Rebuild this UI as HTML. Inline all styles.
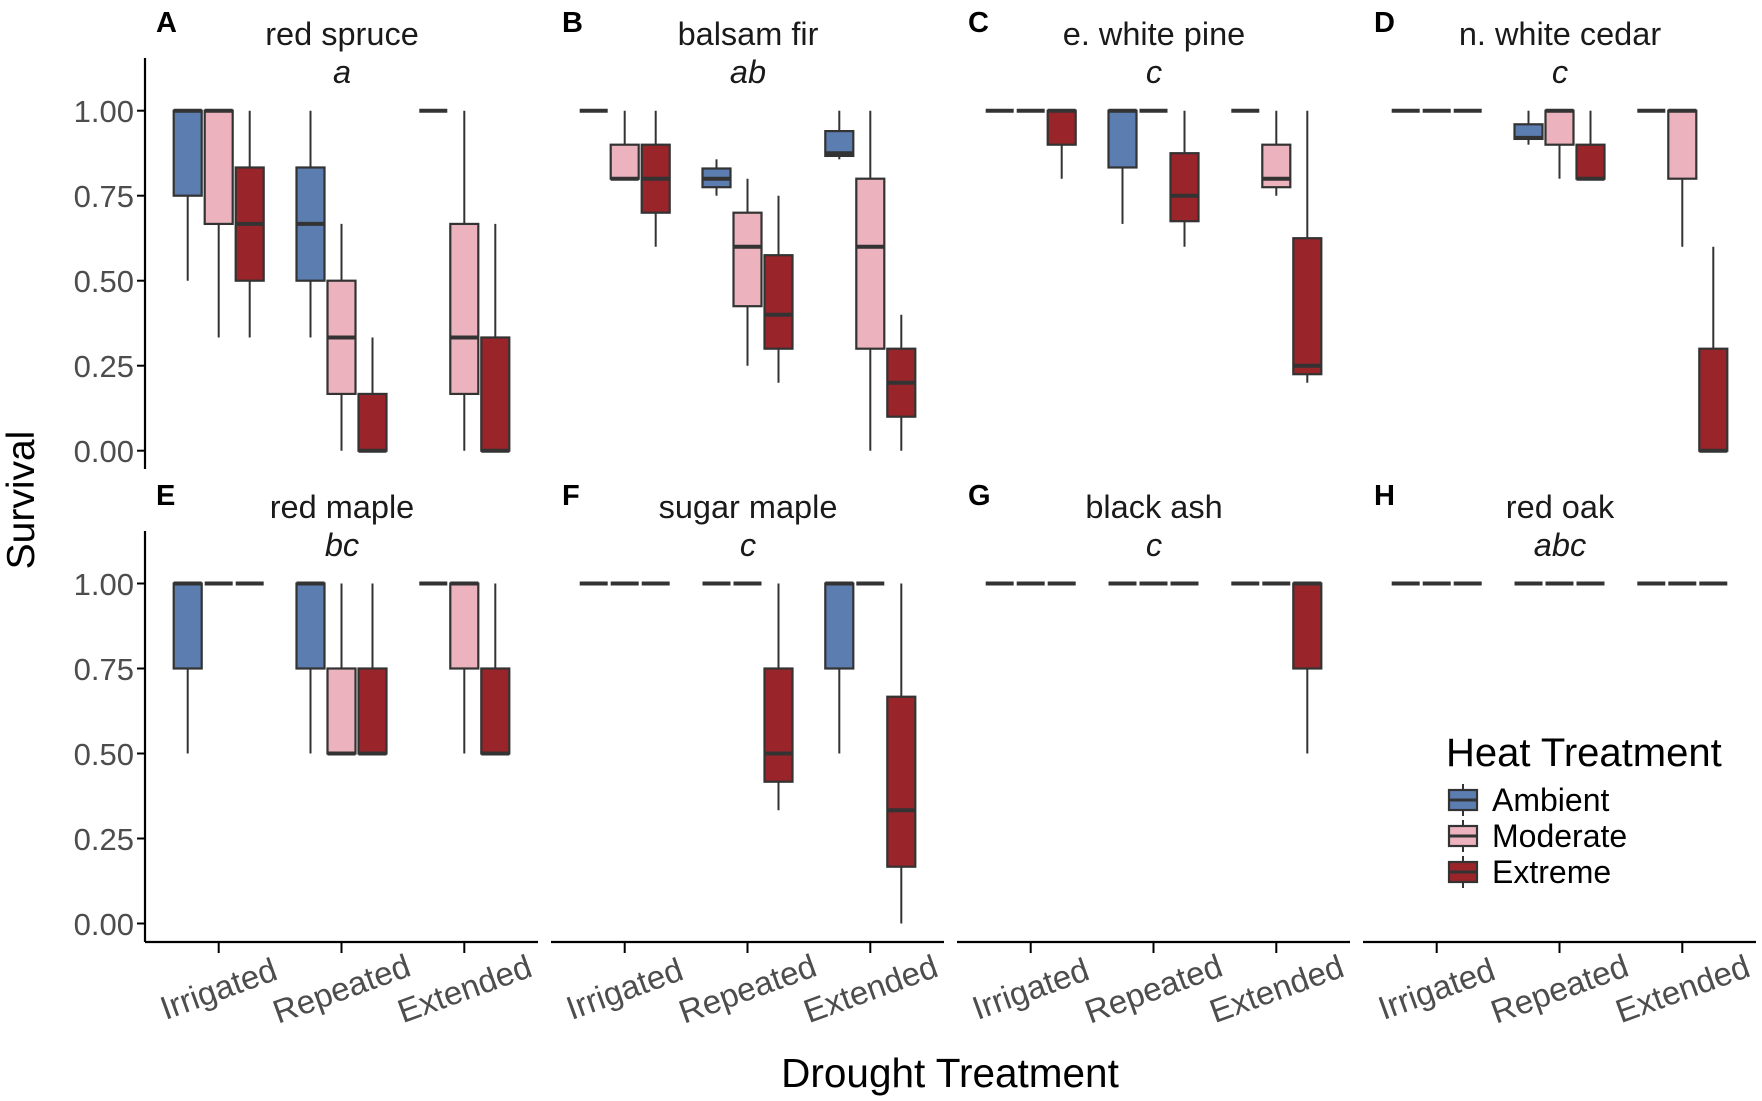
<!DOCTYPE html>
<html><head><meta charset="utf-8"><style>
html,body{margin:0;padding:0;background:#fff}
svg{display:block}
text{font-family:"Liberation Sans",Arial,sans-serif}
</style></head><body>
<svg id="s" width="1762" height="1101" viewBox="0 0 1762 1101" xmlns="http://www.w3.org/2000/svg">
<g id="boxes"></g>
<g stroke="#000" stroke-width="2.2" fill="none">
<line x1="145" y1="58" x2="145" y2="469"/>
<line x1="145" y1="531" x2="145" y2="942"/>
<line x1="145" y1="942" x2="538" y2="942"/>
<line x1="551" y1="942" x2="944" y2="942"/>
<line x1="957" y1="942" x2="1350" y2="942"/>
<line x1="1363" y1="942" x2="1756" y2="942"/>
</g>
<g id="ticks" stroke="#000" stroke-width="2"></g>
<g font-size="31" fill="#4d4d4d" text-anchor="end">
<text x="134" y="122">1.00</text><text x="134" y="207">0.75</text><text x="134" y="292">0.50</text><text x="134" y="377">0.25</text><text x="134" y="462">0.00</text>
<text x="134" y="595">1.00</text><text x="134" y="680">0.75</text><text x="134" y="765">0.50</text><text x="134" y="850">0.25</text><text x="134" y="935">0.00</text>
</g>
<g font-size="29" font-weight="bold" fill="#000">
<text x="156" y="32">A</text><text x="562" y="32">B</text><text x="968" y="32">C</text><text x="1374" y="32">D</text>
<text x="156" y="505">E</text><text x="562" y="505">F</text><text x="968" y="505">G</text><text x="1374" y="505">H</text>
</g>
<g font-size="32.5" fill="#1a1a1a" text-anchor="middle">
<text x="342" y="45">red spruce</text><text x="748" y="45">balsam fir</text><text x="1154" y="45">e. white pine</text><text x="1560" y="45">n. white cedar</text>
<text x="342" y="518">red maple</text><text x="748" y="518">sugar maple</text><text x="1154" y="518">black ash</text><text x="1560" y="518">red oak</text>
</g>
<g font-size="32.5" font-style="italic" fill="#1a1a1a" text-anchor="middle">
<text x="342" y="83">a</text><text x="748" y="83">ab</text><text x="1154" y="83">c</text><text x="1560" y="83">c</text>
<text x="342" y="556">bc</text><text x="748" y="556">c</text><text x="1154" y="556">c</text><text x="1560" y="556">abc</text>
</g>
<g font-size="33" fill="#4d4d4d" text-anchor="middle">
<text transform="translate(219,990) rotate(-20)" dy="10">Irrigated</text>
<text transform="translate(342,990) rotate(-20)" dy="10">Repeated</text>
<text transform="translate(465,990) rotate(-20)" dy="10">Extended</text>
<text transform="translate(625,990) rotate(-20)" dy="10">Irrigated</text>
<text transform="translate(748,990) rotate(-20)" dy="10">Repeated</text>
<text transform="translate(871,990) rotate(-20)" dy="10">Extended</text>
<text transform="translate(1031,990) rotate(-20)" dy="10">Irrigated</text>
<text transform="translate(1154,990) rotate(-20)" dy="10">Repeated</text>
<text transform="translate(1277,990) rotate(-20)" dy="10">Extended</text>
<text transform="translate(1437,990) rotate(-20)" dy="10">Irrigated</text>
<text transform="translate(1560,990) rotate(-20)" dy="10">Repeated</text>
<text transform="translate(1683,990) rotate(-20)" dy="10">Extended</text>
</g>
<text x="950" y="1087" font-size="40.5" text-anchor="middle" fill="#000">Drought Treatment</text>
<text transform="translate(34,500) rotate(-90)" font-size="39" text-anchor="middle" fill="#000">Survival</text>
<text x="1446" y="766" font-size="40" fill="#000">Heat Treatment</text>
<g font-size="32" fill="#000">
<text x="1492" y="811">Ambient</text><text x="1492" y="847">Moderate</text><text x="1492" y="883">Extreme</text>
</g>
<g id="leg"></g>
</svg>
<script>
var ns="http://www.w3.org/2000/svg";
function el(p,t,a){var e=document.createElementNS(ns,t);for(var k in a)e.setAttribute(k,a[k]);p.appendChild(e);return e;}
var B=document.getElementById("boxes"),T=document.getElementById("ticks"),L=document.getElementById("leg");
var cols=["#5b7db0","#ecb3be","#99242a"];
var F=[1,1,1,1,1];
var data=[
[[[.5,.75,1,1,1],[.333,.667,1,1,1],[.333,.5,.667,.833,1]],[[.333,.5,.667,.833,1],[0,.167,.333,.5,.667],[0,0,0,.167,.333]],[F,[0,.167,.333,.667,1],[0,0,0,.333,.667]]],
[[F,[.8,.8,.8,.9,1],[.6,.7,.8,.9,1]],[[.75,.775,.8,.83,.857],[.25,.425,.6,.7,.8],[.2,.3,.4,.575,.75]],[[.857,.867,.875,.94,1],[0,.3,.6,.8,1],[0,.1,.2,.3,.4]]],
[[F,F,[.8,.9,1,1,1]],[[.667,.833,1,1,1],F,[.6,.675,.75,.875,1]],[F,[.75,.775,.8,.9,1],[.2,.225,.25,.625,1]]],
[[F,F,F],[[.9,.917,.92,.96,1],[.8,.9,1,1,1],[.8,.8,.8,.9,1]],[F,[.6,.8,1,1,1],[0,0,0,.3,.6]]],
[[[.5,.75,1,1,1],F,F],[[.5,.75,1,1,1],[.5,.5,.5,.75,1],[.5,.5,.5,.75,1]],[F,[.5,.75,1,1,1],[.5,.5,.5,.75,1]]],
[[F,F,F],[F,F,[.333,.417,.5,.75,1]],[[.5,.75,1,1,1],F,[0,.167,.333,.667,1]]],
[[F,F,F],[F,F,F],[F,F,[.5,.75,1,1,1]]],
[[F,F,F],[F,F,F],[F,F,F]]];
for(var p=0;p<8;p++){var c=p%4,r=Math.floor(p/4);var L0=145+406*c;var y0=450.7+472.8*r;
 function Y(v){return y0-340*v;}
 for(var g=0;g<3;g++){var gc=L0+73.7+122.8*g;
  if(r==1) el(T,"line",{x1:gc,y1:942,x2:gc,y2:953});
  for(var d=0;d<3;d++){var v=data[p][g][d];var cx=gc+(d-1)*31;
   el(B,"line",{x1:cx,y1:Y(v[4]),x2:cx,y2:Y(v[0]),stroke:"#333","stroke-width":2});
   el(B,"rect",{x:cx-14,y:Y(v[3]),width:28,height:Math.max(0,Y(v[1])-Y(v[3])),fill:cols[d],stroke:"#333","stroke-width":2.2});
   el(B,"line",{x1:cx-14,y1:Y(v[2]),x2:cx+14,y2:Y(v[2]),stroke:"#333","stroke-width":4});
  }}
}
for(var r=0;r<2;r++)for(var i=0;i<5;i++){var y=110.7+85*i+472.8*r;el(T,"line",{x1:137,y1:y,x2:145,y2:y});}
for(var i=0;i<3;i++){var y=800+36*i;
 el(L,"line",{x1:1463,y1:y-16,x2:1463,y2:y+16,stroke:"#333","stroke-width":2});
 el(L,"rect",{x:1449,y:y-10,width:28,height:20,fill:cols[i],stroke:"#333","stroke-width":2.2});
 el(L,"line",{x1:1449,y1:y,x2:1477,y2:y,stroke:"#333","stroke-width":3});}
</script>
</body></html>
